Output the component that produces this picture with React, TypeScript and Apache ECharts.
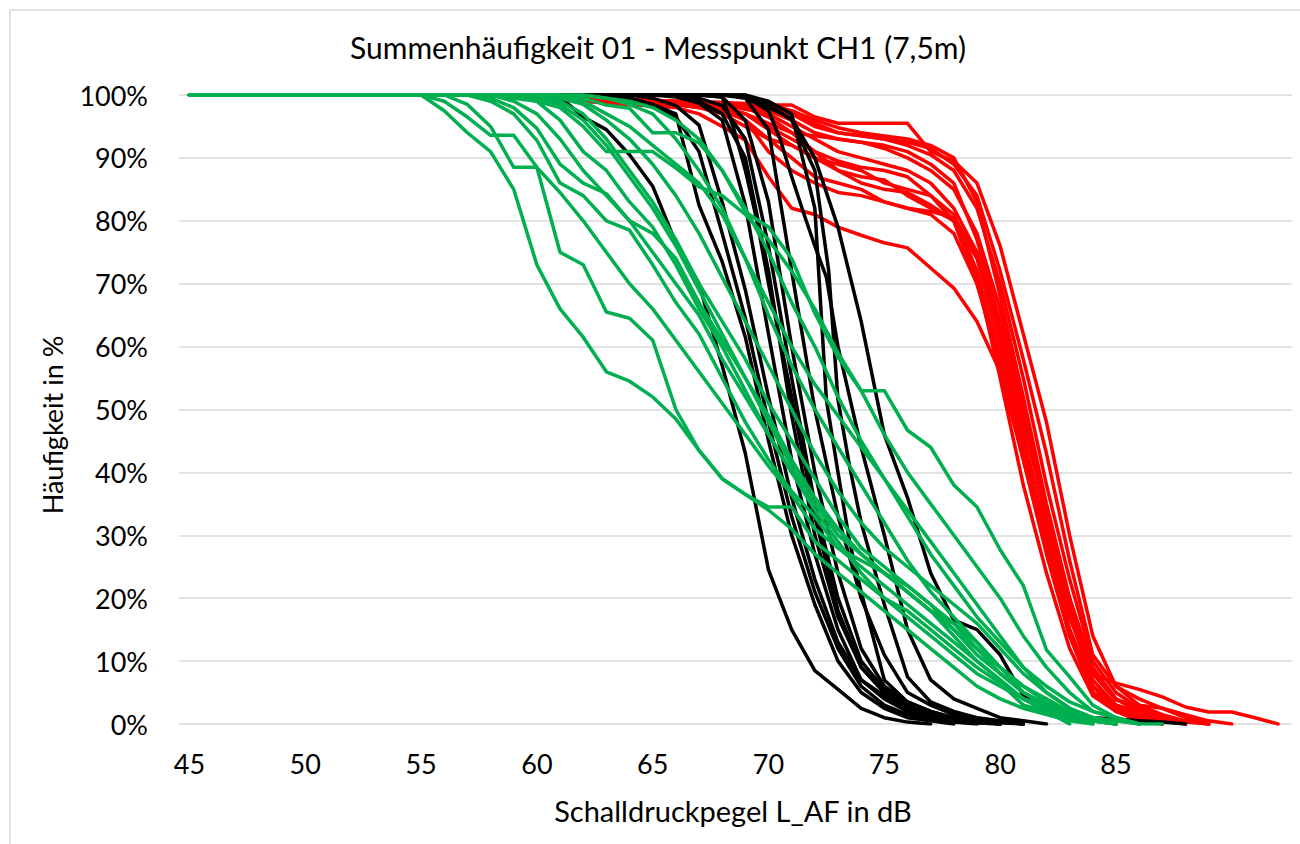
import React, { useEffect, useRef } from "react";
import * as echarts from "echarts";

// Axis ticks
const X_TICKS = [45, 50, 55, 60, 65, 70, 75, 80, 85];
const X_MIN = 44.55;
const X_MAX = 92.6;

// Red curves (cumulative frequency in %, points [dB, %])
const RED_CURVES: number[][][] = [
  [[60,100],[61,99.5],[62,99.3],[64,99],[66,98.8],[67,98.5],[68,98.4],[71,98.4],[72,96.5],[73,95.5],[76,95.5],[77,91],[78,89.5],[79,86],[80,76],[81,62],[82,48],[83,30],[84,14],[85,6],[86,3],[87,1.5],[88,0.5],[89,0]],
  [[60,100],[62,99],[64,98.5],[66,98],[67,97],[68,95],[69,92.8],[70,87],[71,82],[72,81],[73,79],[74,77.7],[75,76.5],[76,75.7],[77,72.5],[78,69.3],[79,64],[80,56],[81,42],[82,27],[83,14],[84,5],[85,2.5],[86,1],[87,0]],
  [[60,100],[62,99.5],[64,99],[66,98.5],[68,98],[69,97],[70,95],[71,93],[72,91],[73,88],[74,87],[75,86.5],[76,84],[77,82],[78,80],[79,74],[80,60],[81,45],[82,30],[83,17],[84,7],[85,3],[86,1],[87,0]],
  [[60,100],[62,99.5],[64,99],[66,98.5],[67,98],[68,97],[69,95],[70,93],[71,92],[72,90],[73,89],[74,88],[75,86],[76,85],[77,84],[78,81],[79,72],[80,58],[81,42],[82,28],[83,15],[84,6],[85,3],[86,1.5],[87,0.5],[88,0]],
  [[60,100],[61,99.5],[62,99],[64,98.6],[66,98.4],[68,98],[69,97],[70,95.5],[71,94],[72,93.5],[73,93],[74,92.5],[75,91.5],[76,90],[77,88],[78,85],[79,78],[80,66],[81,50],[82,33],[83,20],[84,8],[85,4],[86,2],[87,1],[88,0]],
  [[60,100],[62,99.3],[64,99],[66,98.7],[68,98.3],[69,96],[70,91],[71,88],[72,86],[73,84.5],[74,84],[75,83],[76,82],[77,81.5],[78,80.5],[79,75],[80,62],[81,46],[82,30],[83,15],[84,6],[85,3],[86,2],[87,1],[88,0.5],[89,0]],
  [[60,100],[62,99.5],[64,99.2],[66,99],[68,98.6],[70,98],[71,97],[72,95],[73,94],[74,93.5],[75,93],[76,92],[77,90.5],[78,88],[79,82],[80,70],[81,55],[82,38],[83,23],[84,10],[85,5],[86,2.5],[87,1],[88,0]],
  [[60,100],[62,99.5],[64,99],[66,98.7],[68,98.2],[69,97],[70,94.5],[71,92],[72,90],[73,88],[74,86],[75,85],[76,84.5],[77,82.5],[78,80],[79,70],[80,57],[81,43],[82,30],[83,18],[84,8],[85,6.5],[86,5.5],[87,4.3],[88,2.7],[89,1.9],[90,1.9],[91,1],[92,0]],
  [[60,100],[62,99.5],[64,99],[66,98.8],[68,98.5],[70,97],[71,95],[72,93],[73,91],[74,90],[75,89],[76,88],[77,86],[78,82],[79,75],[80,63],[81,48],[82,33],[83,19],[84,8],[85,3.8],[86,3],[87,2.5],[88,1],[89,0]],
  [[60,100],[62,99.6],[64,99.3],[66,99],[68,98.8],[70,98.5],[71,97.5],[72,96],[73,94.8],[74,94],[75,93.5],[76,93],[77,92],[78,90],[79,83],[80,68],[81,52],[82,35],[83,20],[84,9],[85,4],[86,2],[87,1],[88,0.3],[89,0]],
  [[60,100],[62,99.5],[64,99.2],[66,99],[68,98.5],[70,97.5],[71,96],[72,94],[73,93],[74,92.5],[75,92],[76,91],[77,89],[78,86],[79,77],[80,64],[81,49],[82,32],[83,18],[84,6],[85,2],[86,0.5],[87,0]],
  [[60,100],[62,99.4],[64,99],[66,98.5],[68,97.5],[69,96],[70,93],[71,90],[72,87],[73,86],[74,85],[75,83],[76,82],[77,81],[78,78],[79,70],[80,58],[81,44],[82,28],[83,14],[84,5],[85,2],[86,1],[87,0]],
  [[60,100],[62,99.5],[64,99.3],[66,99],[68,98.8],[70,98],[71,97],[72,95.5],[73,94],[74,93.5],[75,93],[76,92.5],[77,91.5],[78,89],[79,84],[80,72],[81,58],[82,43],[83,26],[84,11],[85,6],[86,4],[87,2.5],[88,1.5],[89,0.5],[90,0]],
  [[61,100],[63,99.5],[65,99],[67,98.5],[69,98],[70,96.5],[71,94],[72,91],[73,89.5],[74,88.5],[75,88],[76,87],[77,84],[78,80],[79,71],[80,55],[81,38],[82,24],[83,12],[84,4.5],[85,2],[86,1],[87,0]],
];

// Black curves
const BLACK_CURVES: number[][][] = [
  [[60,100],[61,99.7],[62,96.5],[63,94.5],[64,90.5],[65,85.5],[66,76.5],[67,70],[68,57],[69,43],[70,24.5],[71,15],[72,8.5],[73,5.5],[74,2.5],[75,1],[76,0.3],[77,0]],
  [[63,100],[64,99.5],[65,98.5],[66,97],[67,82.5],[68,73.5],[69,61.5],[70,45],[71,30],[72,19],[73,10],[74,5],[75,2.5],[76,1],[77,0.5],[78,0]],
  [[63,100],[64,99.5],[65,98.5],[66,96.5],[67,91],[68,78],[69,64.5],[70,48],[71,33],[72,21],[73,12],[74,6],[75,3],[76,1.5],[77,0.8],[78,0.3],[79,0]],
  [[64,100],[65,99.5],[66,98.3],[67,95.2],[68,83],[69,69],[70,52],[71,36],[72,23],[73,13],[74,7],[75,4],[76,2],[77,1],[78,0.5],[79,0.2],[80,0]],
  [[65,100],[66,99.7],[67,98.7],[68,96],[69,82.5],[70,62],[71,42],[72,27],[73,15],[74,7],[75,4.5],[76,2.5],[77,1.2],[78,0.6],[79,0.2],[80,0]],
  [[67,100],[68,99.7],[68.5,94.7],[69,88],[69.5,80],[70,70],[70.5,61],[71,52],[72,33],[73,18],[74,9],[75,5],[76,2.5],[77,1.5],[78,0.8],[79,0.5],[80,0.3],[81,0]],
  [[66,100],[67,99],[68,97],[69,90],[70,72],[71,49],[72,30],[73,17],[74,9],[75,5],[76,3],[77,1.6],[78,0.8],[79,0.4],[80,0]],
  [[66,100],[67,99.5],[68,98.3],[69,93],[70,76],[71,55],[72,35],[73,20],[74,10],[75,5.5],[76,3],[77,1.8],[78,1],[79,0.5],[80,0.2],[81,0]],
  [[67,100],[68,99.7],[69,96],[70,83],[71,60],[72,40],[73,24],[74,12],[75,6],[76,3.5],[77,2],[78,1],[79,0.5],[80,0]],
  [[68,100],[69,99.5],[70,94.5],[71,72],[72,50],[73,33],[74,20],[75,11],[76,5],[77,3],[78,1.5],[79,0.8],[80,0.4],[81,0]],
  [[68,100],[69,99.7],[70,97.5],[70.5,93],[71,87],[71.5,81.4],[72,76],[72.5,71],[73,60],[74,44],[75,30],[76,15],[77,7],[78,4],[79,2.5],[80,1],[81,0.5],[82,0]],
  [[69,100],[70,98],[71,96.3],[72,90],[73,79],[74,64],[75,46],[76,36],[77,24],[78,16.5],[79,15],[80,11],[81,4.5],[82,2],[83,1.5],[84,1],[85,0.8],[86,0.5],[87,0.3],[88,0]],
  [[69,100],[70,99],[71,97],[72,82],[72.5,51.5],[73,40],[73.5,29],[74,21],[75,7],[76,3.5],[77,2],[78,1],[79,0.5],[80,0]],
  [[69,100],[70,98.5],[71,96],[72,88],[72.6,72],[73,51.5],[73.5,41],[74,32],[75,19],[76,7.5],[77,3.5],[78,2],[79,1],[80,0.5],[81,0]],
];

// Green curves
const GREEN_CURVES: number[][][] = [
  [[55,100],[56,97.5],[57,94],[58,91],[59,85],[60,73],[61,66],[62,61.5],[63,56],[64,54.5],[65,52],[66,48.5],[67,43.5],[68,39],[69,36.5],[70,34.5],[71,34.5],[72,29],[73,26],[74,23],[75,20],[76,18],[77,15],[78,12],[79,9],[80,6.5],[81,3],[82,2],[83,0]],
  [[56,100],[57,98.5],[58,95],[59,88.5],[60,88.5],[61,75],[62,73],[63,65.5],[64,64.5],[65,61],[66,50],[67,43.5],[68,39],[69,36.5],[70,34],[71,31],[72,27],[73,24],[74,21],[75,18],[76,15],[77,12],[78,9],[79,6],[80,4],[81,2.5],[82,1.5],[83,0.5],[84,0]],
  [[55,100],[56,99],[57,96.5],[58,93.6],[59,93.6],[60,88.5],[61,84.5],[62,80],[63,75],[64,70],[65,66],[66,61],[67,56],[68,51],[69,46],[70,41],[71,36.5],[72,31],[73,28],[74,26],[75,24],[76,22],[77,19],[78,15],[79,11],[80,8],[81,5],[82,3],[83,1.5],[84,0.5],[85,0]],
  [[57,100],[58,99],[59,97],[60,92.8],[61,86],[62,84],[63,80],[64,78.5],[65,73],[66,67],[67,62],[68,55],[69,48],[70,42],[71,37],[72,33],[73,28],[74,25],[75,22],[76,19],[77,16],[78,13],[79,10],[80,7],[81,4],[82,2.5],[83,1.5],[84,0.5],[85,0]],
  [[57,100],[58,99.5],[59,98],[60,94.7],[61,89],[62,86],[63,84.3],[64,80],[65,78],[66,74],[67,67],[68,61],[69,55],[70,49],[71,42],[72,36],[73,31],[74,27],[75,24],[76,21],[77,18],[78,15],[79,12],[80,9],[81,6],[82,3.5],[83,2],[84,1],[85,0]],
  [[58,100],[59,99.5],[60,99],[61,96],[62,91],[63,88],[64,83],[65,79],[66,73],[67,66],[68,60],[69,53],[70,46],[71,40],[72,35],[73,30],[74,27],[75,24],[76,21],[77,18],[78,16],[79,13],[80,9],[81,5],[82,3],[83,1.5],[84,0.5],[85,0]],
  [[59,100],[60,99],[61,98],[62,95],[63,91],[64,91],[65,91],[66,88.4],[67,85.4],[68,84],[69,81],[70,77],[71,72],[72,66],[73,59],[74,53],[75,46],[76,40],[77,35],[78,30],[79,25],[80,20],[81,14],[82,9],[83,5],[84,2],[85,1],[86,0]],
  [[60,100],[61,99.5],[62,98.5],[63,96],[64,93],[65,89],[66,84],[67,78],[68,71],[69,64],[70,57],[71,50],[72,43],[73,37],[74,32],[75,28],[76,25],[77,22],[78,19],[79,16],[80,12],[81,8],[82,5],[83,2.5],[84,1],[85,0]],
  [[61,100],[62,99.5],[63,98.4],[64,97.9],[65,94],[66,94],[67,92.4],[68,88],[69,82],[70,75],[71,67],[72,60],[73,52],[74,45],[75,39],[76,34],[77,29],[78,24],[79,19],[80,14],[81,9],[82,6],[83,3.5],[84,2],[85,1],[86,0]],
  [[60,100],[61,99],[62,97],[63,93],[64,88],[65,83],[66,77],[67,70],[68,64],[69,58],[70,51],[71,45],[72,39],[73,33],[74,28],[75,25],[76,22],[77,19],[78,16],[79,12],[80,8],[81,5],[82,3],[83,1.5],[84,0.5],[85,0]],
  [[62,100],[63,99.5],[64,99],[65,98],[66,96],[67,93],[68,88],[69,81.4],[70,79],[71,74],[72,65.3],[73,58.3],[74,53],[75,53],[76,46.7],[77,44],[78,38],[79,34.5],[80,27.7],[81,22],[82,11.8],[83,7.5],[84,3],[85,1],[86,0]],
  [[61,100],[62,99],[63,97],[64,95],[65,92],[66,89],[67,86],[68,81],[69,74],[70,67],[71,60],[72,54],[73,49],[74,44],[75,39],[76,33],[77,27],[78,22],[79,17],[80,13],[81,9],[82,5],[83,2.5],[84,1],[85,0]],
  [[58,100],[59,99],[60,97],[61,93],[62,88],[63,84],[64,80],[65,75],[66,70],[67,65],[68,58],[69,52],[70,46],[71,40],[72,34],[73,29],[74,24],[75,20],[76,17],[77,14],[78,11],[79,8],[80,6],[81,4],[82,3],[83,2],[84,1],[85,0]],
  [[59,100],[60,99.5],[61,98.5],[62,96],[63,92],[64,87],[65,82],[66,76],[67,69],[68,62],[69,55],[70,48],[71,41],[72,35],[73,31],[74,27],[75,24],[76,21],[77,18],[78,14],[79,10],[80,7],[81,4],[82,2],[83,1],[84,0]],
  [[62,100],[63,99.5],[64,98.5],[65,97],[66,93],[67,88],[68,82],[69,74],[70,65],[71,57],[72,50],[73,44],[74,38],[75,32],[76,26],[77,21],[78,17],[79,13],[80,9],[81,6],[82,4],[83,2],[84,1],[85,0.5],[86,0],[87,0]],
];

const TITLE = "Summenhäufigkeit 01 - Messpunkt CH1 (7,5m)";
const X_NAME = "Schalldruckpegel L_AF in dB";
const Y_NAME = "Häufigkeit in %";

const FONT = "Lato, 'Noto Sans', sans-serif";

export default function App() {
  const ref = useRef<HTMLDivElement>(null);
  useEffect(() => {
    const chart = echarts.init(ref.current as HTMLDivElement, null, { renderer: "svg" });
    const mk = (curves: number[][][], color: string, name: string) =>
      curves.map((c, i) => ({
        name: name + (i + 1),
        type: "line",
        data: [[45, 100], ...c],
        symbol: "none",
        showSymbol: false,
        silent: true,
        lineStyle: { color, width: 3.5, join: "round", cap: "round" },
        itemStyle: { color },
      }));
    chart.setOption({
      animation: false,
      backgroundColor: "#ffffff",
      textStyle: { fontFamily: FONT },
      grid: { left: 179, right: 8, top: 95, bottom: 120 },
      xAxis: {
        type: "value",
        min: X_MIN,
        max: X_MAX,
        axisLine: { show: false },
        axisTick: { show: false },
        splitLine: { show: false },
        axisLabel: {
          customValues: X_TICKS,
          fontSize: 27,
          color: "#000",
          margin: 26,
          fontFamily: FONT,
        },
      },
      yAxis: {
        type: "value",
        min: 0,
        max: 100,
        interval: 10,
        axisLine: { show: false },
        axisTick: { show: false },
        splitLine: { lineStyle: { color: "#d9d9d9", width: 1.5 } },
        axisLabel: {
          formatter: "{value}%",
          fontSize: 27,
          color: "#000",
          margin: 31,
          fontFamily: FONT,
        },
      },
      graphic: [
        {
          type: "rect",
          shape: { x: 10, y: 10, width: 1400, height: 900 },
          style: { fill: "none", stroke: "#d9d9d9", lineWidth: 1.5 },
          silent: true,
        },
        {
          type: "text",
          x: 658,
          y: 47,
          style: { text: TITLE, fontSize: 30, fill: "#000", align: "center", verticalAlign: "middle", fontFamily: FONT },
        },
        {
          type: "text",
          x: 733,
          y: 810,
          style: { text: X_NAME, fontSize: 29, fill: "#000", align: "center", verticalAlign: "middle", fontFamily: FONT },
        },
        {
          type: "text",
          x: 52,
          y: 425,
          rotation: Math.PI / 2,
          style: { text: Y_NAME, fontSize: 27, fill: "#000", align: "center", verticalAlign: "middle", fontFamily: FONT },
        },
      ],
      series: [
        ...mk(RED_CURVES, "#ff0000", "rot"),
        ...mk(BLACK_CURVES, "#000000", "schwarz"),
        ...mk(GREEN_CURVES, "#00b050", "gruen"),
      ],
    });
    return () => chart.dispose();
  }, []);
  return (
    <div
      ref={ref}
      style={{ position: "absolute", left: 0, top: 0, width: 1300, height: 844, background: "#fff" }}
    />
  );
}
